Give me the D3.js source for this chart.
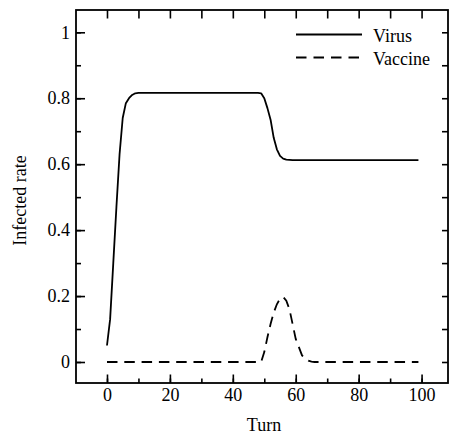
<!DOCTYPE html>
<html>
<head>
<meta charset="utf-8">
<script src="https://cdn.jsdelivr.net/npm/d3@7"></script>
<style>
  body { margin: 0; background: #fff; }
  svg text { font-family: "Liberation Serif", Tinos, "Times New Roman", Times, serif; fill: #000; }
</style>
</head>
<body>
<svg id="chart" width="450" height="434"></svg>
<script>
// turn numbers and values
const virusTurns = [0, 1, 2, 3, 4, 5, 6, 7, 8, 9, 10, 48, 49, 50, 51, 52, 53, 54, 55, 56, 57, 58, 59, 99]
const virusRate = [0.05, 0.13, 0.30, 0.47, 0.63, 0.74, 0.785, 0.80, 0.81, 0.815, 0.816,
                   0.816, 0.815, 0.80, 0.77, 0.735, 0.68, 0.645, 0.625, 0.617, 0.614, 0.613, 0.612, 0.612]

const vaccineTurns = [0, 49, 50, 51, 52, 53, 54, 55, 56, 57, 58, 59, 60, 61, 62, 63, 64, 65, 66, 99]
const vaccineRate = [0, 0, 0.03, 0.075, 0.115, 0.15, 0.175, 0.192, 0.197, 0.186, 0.16, 0.115,
                     0.07, 0.045, 0.02, 0.01, 0.004, 0.001, 0, 0]

const xTicks = [0, 20, 40, 60, 80, 100]
const yTicks = [0, 0.2, 0.4, 0.6, 0.8, 1]
const seriesNames = ['Virus', 'Vaccine']

const margin = { top: 10, right: 2, bottom: 51, left: 76 }
const width = 450 - margin.left - margin.right
const height = 434 - margin.top - margin.bottom

const svg = d3.select('#chart')
const g = svg.append('g')
    .attr('transform', `translate(${margin.left},${margin.top})`)

const x = d3.scaleLinear().domain([-9.85, 108.4]).range([0, width])
const y = d3.scaleLinear().domain([-0.0637, 1.0676]).range([height, 0])

/**
 * Inward ticks on all four sides
 */
const minorX = d3.range(0, 101, 10)
const minorY = d3.range(0, 1.01, 0.1).map(v => +v.toFixed(1))

g.append('g')
    .attr('transform', `translate(0,${height})`)
    .call(d3.axisBottom(x).tickValues(minorX).tickSize(-4.5).tickFormat(''))
g.append('g')
    .attr('transform', `translate(0,${height})`)
    .call(d3.axisBottom(x).tickValues(xTicks).tickSize(-8.5).tickPadding(5)
        .tickFormat(d3.format('d')))
g.append('g')
    .call(d3.axisTop(x).tickValues(minorX).tickSize(-8.5).tickFormat(''))

g.append('g')
    .call(d3.axisLeft(y).tickValues(minorY).tickSize(-5).tickFormat(''))
g.append('g')
    .call(d3.axisLeft(y).tickValues(yTicks).tickSize(-9).tickPadding(6)
        .tickFormat(d => d === 0 || d === 1 ? d : d3.format('.1f')(d)))
g.append('g')
    .attr('transform', `translate(${width},0)`)
    .call(d3.axisRight(y).tickValues(minorY).tickSize(-6).tickFormat(''))

g.selectAll('g').attr('font-family', null)
g.selectAll('.domain').remove()
g.selectAll('.tick line').attr('stroke', '#000').attr('stroke-width', 1.6)
g.selectAll('.tick text').style('font-size', '18px')

g.append('rect')
    .attr('width', width)
    .attr('height', height)
    .attr('fill', 'none')
    .attr('stroke', '#000')
    .attr('stroke-width', 1.8)

/**
 * Lines
 */
const line = d3.line()
    .x(d => x(d[0]))
    .y(d => y(d[1]))

g.append('path')
    .datum(d3.zip(virusTurns, virusRate))
    .attr('fill', 'none')
    .attr('stroke', '#000')
    .attr('stroke-width', 1.8)
    .attr('stroke-linejoin', 'round')
    .attr('d', line)

g.append('path')
    .datum(d3.zip(vaccineTurns, vaccineRate))
    .attr('fill', 'none')
    .attr('stroke', '#000')
    .attr('stroke-width', 1.8)
    .attr('stroke-dasharray', '10.5 6.8')
    .attr('d', line)

/**
 * Legend
 */
const legend = svg.append('g')
seriesNames.forEach((name, i) => {
    const ly = 34.5 + i * 23
    legend.append('line')
        .attr('x1', 296).attr('x2', 362)
        .attr('y1', ly).attr('y2', ly)
        .attr('stroke', '#000')
        .attr('stroke-width', 1.8)
        .attr('stroke-dasharray', i === 1 ? '10.5 7' : null)
    legend.append('text')
        .attr('x', 373)
        .attr('y', ly + 7)
        .style('font-size', '18px')
        .text(name)
})

/**
 * Axis titles
 */
svg.append('text')
    .attr('x', margin.left + width / 2 + 2)
    .attr('y', 431)
    .attr('text-anchor', 'middle')
    .style('font-size', '18px')
    .text('Turn')

svg.append('text')
    .attr('transform', `translate(26,${margin.top + height / 2 + 4}) rotate(-90)`)
    .attr('text-anchor', 'middle')
    .style('font-size', '18px')
    .text('Infected rate')
</script>
</body>
</html>
